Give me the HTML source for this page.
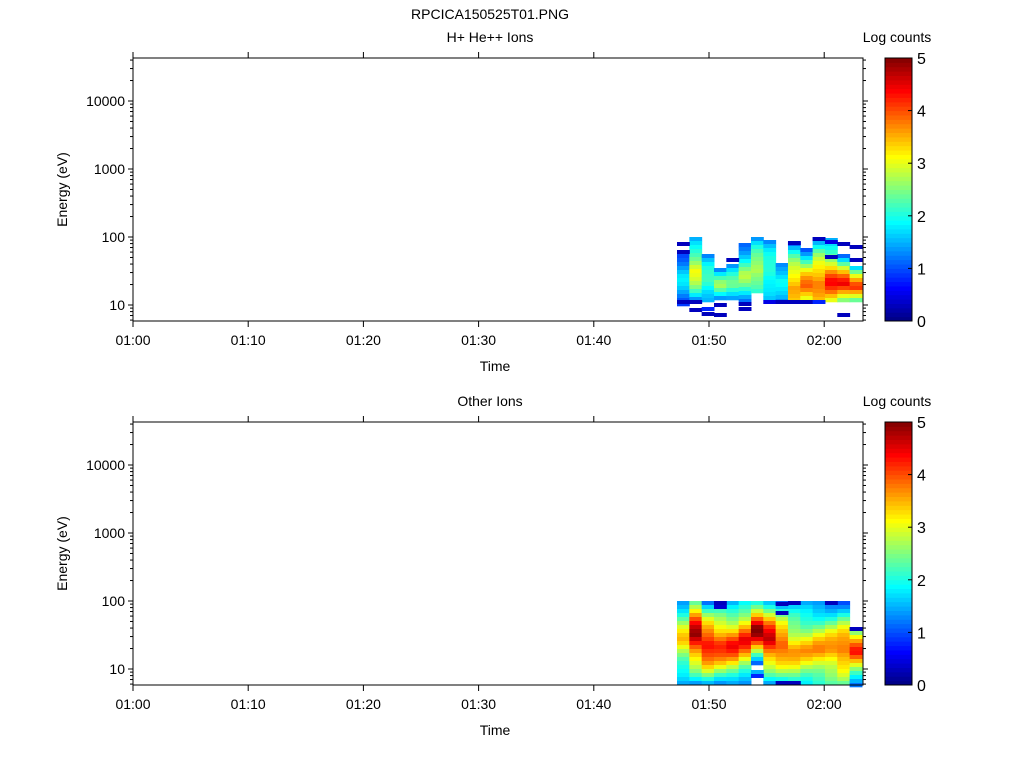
<!DOCTYPE html>
<html><head><meta charset="utf-8"><style>
body{margin:0;background:#fff;width:1024px;height:768px;overflow:hidden}
svg text{font-family:"Liberation Sans",sans-serif;font-size:14px;fill:#000}
</style></head><body>
<svg id="s" width="1024" height="768" xmlns="http://www.w3.org/2000/svg">
<text x="490" y="19" text-anchor="middle">RPCICA150525T01.PNG</text>
</svg>
<script>
const S=document.getElementById('s');const NS='http://www.w3.org/2000/svg';
function el(t,a,txt){const e=document.createElementNS(NS,t);for(const k in a)e.setAttribute(k,a[k]);if(txt!==undefined)e.textContent=txt;S.appendChild(e);return e;}
function jet(v){let t=Math.max(0,Math.min(1,v/5));
 const r=Math.max(0,Math.min(1,Math.min(4*t-1.5,-4*t+4.5))),g=Math.max(0,Math.min(1,Math.min(4*t-0.5,-4*t+3.5))),b=Math.max(0,Math.min(1,Math.min(4*t+0.5,-4*t+2.5)));
 return `rgb(${Math.round(r*255)},${Math.round(g*255)},${Math.round(b*255)})`;}
const L=133,R=863,X0=677,CW=12.33;
function panel(T,B,title,cols,extra){
 el('text',{x:490,y:T-16,'text-anchor':'middle'},title);
 el('text',{x:897,y:T-16,'text-anchor':'middle'},'Log counts');
 cols.forEach((c,i)=>{const [top,bot,pk,py]=c;for(let y=top;y<bot;y+=4){
   const d=Math.abs(y+2-py),span=Math.max(py-top,bot-py);
   let v=pk-(pk-1.1)*Math.pow(d/span,1.2)+0.25*Math.sin(i*7.3+y*1.7);
   el('rect',{x:X0+i*CW,y:y,width:CW+0.5,height:4.3,fill:jet(v)});}});
 extra.forEach(e=>el('rect',{x:X0+e[0]*CW,y:e[1],width:CW+0.5,height:4,fill:jet(e[2])}));
 const dec=y=>T+43+(4-y)*68; // y pos of 10^y
 el('rect',{x:L,y:T,width:R-L,height:B-T,fill:'none',stroke:'#000','stroke-width':1});
 for(let d=0;d<=4;d++){for(let m=1;m<=9;m++){const yy=dec(d+Math.log10(m));if(yy<T||yy>B)continue;
   const len=m==1?5:3;el('line',{x1:L-len,x2:L,y1:yy,y2:yy,stroke:'#000'});el('line',{x1:R,x2:R+len,y1:yy,y2:yy,stroke:'#000'});}}
 for(let d=1;d<=4;d++) el('text',{x:L-8,y:dec(d)+5,'text-anchor':'end'},String(Math.pow(10,d)));
 for(let m=0;m<=6;m++){const xx=L+m*115.2;el('line',{x1:xx,x2:xx,y1:B,y2:B+6,stroke:'#000'});el('line',{x1:xx,x2:xx,y1:T-6,y2:T,stroke:'#000'});
  el('text',{x:xx,y:B+24,'text-anchor':'middle'},m==6?'02:00':'01:'+m+'0');}
 el('text',{x:495,y:B+50,'text-anchor':'middle'},'Time');
 el('text',{x:67,y:(T+B)/2,'text-anchor':'middle',transform:`rotate(-90 67 ${(T+B)/2})`},'Energy (eV)');
 const cx=885,cw=27;
 for(let i=0;i<60;i++){const y0=B-(i+1)*(B-T)/60;el('rect',{x:cx,y:y0,width:cw,height:(B-T)/60+0.5,fill:jet((i+0.5)/12)});}
 el('rect',{x:cx,y:T,width:cw,height:B-T,fill:'none',stroke:'#000'});
 for(let k=0;k<=5;k++){const yy=B-k*(B-T)/5;el('line',{x1:cx+cw-4,x2:cx+cw,y1:yy,y2:yy,stroke:'#000'});
  el('text',{x:cx+cw+5,y:yy+6,style:'font-size:16px'},String(k));}
}
panel(58,321,'H+ He++ Ions',[
 [250,305,1.6,278],[237,298,3.2,270],[254,300,2.3,282],[268,300,2.5,285],[264,300,2.4,285],
 [243,300,2.6,275],[237,292,3.0,270],[240,298,2.3,272],[263,300,2.2,282],[242,300,3.8,288],
 [248,300,3.9,287],[237,300,4.0,284],[238,300,4.2,282],[254,300,4.3,284],[266,300,4.4,287]],
 [[0,242,0.3],[0,250,0.3],[0,300,0.3],[1,300,0.3],[1,308,0.3],[2,307,0.8],[2,312,0.3],[3,303,0.3],[3,313,0.3],[4,258,0.3],[5,302,0.3],[5,307,0.3],[7,300,0.5],[8,300,0.3],[9,300,0.3],[10,300,0.3],[11,300,0.8],[9,241,0.3],[11,237,0.3],[12,240,0.5],[12,255,0.3],[13,242,0.3],[13,313,0.3],[14,245,0.3],[14,258,0.3]]);
panel(422,685,'Other Ions',[
 [601,685,3.3,640],[601,685,4.8,635],[601,685,4.6,645],[601,685,4.3,645],[601,685,4.3,645],
 [601,685,4.3,640],[601,665,5.0,630],[601,685,4.7,640],[601,685,4.2,645],[601,685,3.6,650],
 [601,685,3.5,650],[601,685,3.6,650],[601,685,3.7,650],[601,685,4.0,650],[627,685,4.2,652]],
 [[3,601,0.3],[3,605,0.4],[8,602,0.3],[8,611,0.3],[9,601,0.3],[12,601,0.3],[14,627,0.3],[8,681,0.3],[9,681,0.3],[6,670,1.5],[6,674,0.8]]);
</script>
</body></html>
